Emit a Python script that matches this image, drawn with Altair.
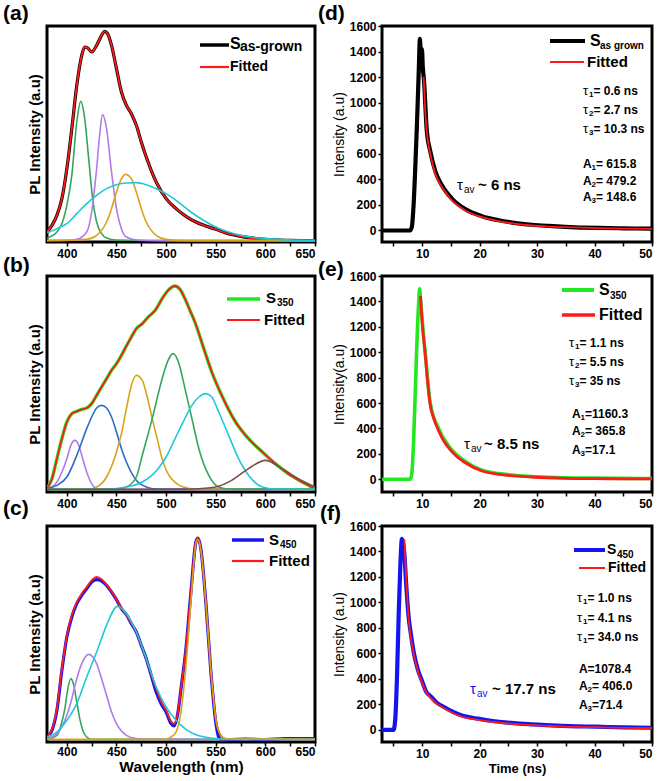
import altair as alt
import pandas as pd

FONT = "Liberation Sans"

# ---------------- panel (a) : S as-grown PL ----------------
a_tot_x = [380, 385, 390, 395, 400, 405, 410, 415, 418, 421, 425, 430, 435, 438, 441, 445, 450, 455, 460,
           465, 470, 475, 480, 490, 500, 510, 520, 530, 540, 550, 560, 575, 600, 625, 650]
a_tot_y = [30, 50, 80, 130, 220, 340, 470, 560, 585, 582, 570, 590, 620, 632, 625, 590, 520, 450, 410,
           385, 350, 300, 255, 180, 130, 100, 77, 60, 48, 38, 27, 17, 8, 5, 4]
a_green_x = [380, 390, 395, 400, 405, 410, 414, 418, 422, 426, 430, 435, 440, 450, 500, 650]
a_green_y = [12, 30, 55, 110, 200, 360, 422, 370, 250, 130, 60, 25, 12, 6, 4, 4]
a_purple_x = [380, 400, 410, 420, 425, 430, 433, 436, 440, 445, 450, 455, 460, 470, 500, 650]
a_purple_y = [5, 5, 8, 30, 90, 220, 320, 382, 340, 210, 100, 40, 15, 6, 4, 4]
a_orange_x = [380, 420, 430, 440, 445, 450, 455, 459, 465, 470, 475, 480, 490, 500, 520, 650]
a_orange_y = [4, 8, 20, 60, 100, 150, 190, 203, 190, 150, 100, 60, 20, 8, 4, 4]
a_cyan_x = [380, 390, 400, 410, 420, 430, 440, 450, 460, 470, 480, 490, 500, 510, 525, 550, 575, 600, 625, 650]
a_cyan_y = [28, 40, 55, 85, 115, 140, 160, 172, 177, 178, 172, 160, 145, 125, 90, 45, 20, 10, 6, 4]

# ---------------- panel (b) : S350 PL ----------------
b_tot_x = [380, 385, 390, 395, 400, 405, 410, 415, 420, 425, 430, 435, 440, 445, 450, 455, 460, 465, 470,
           476, 482, 489, 496, 502, 509, 514, 519, 524, 529, 538, 546, 556, 570, 583, 597, 610, 623, 637, 650]
b_tot_y = [10, 40, 100, 160, 210, 235, 242, 248, 252, 265, 290, 315, 340, 365, 385, 410, 438, 465, 490,
           505, 525, 545, 580, 605, 618, 608, 580, 545, 510, 430, 360, 290, 210, 160, 120, 85, 55, 30, 10]
b_purple_x = [380, 390, 395, 400, 404, 408, 412, 416, 420, 425, 430, 440, 650]
b_purple_y = [8, 30, 60, 100, 140, 155, 140, 100, 60, 25, 10, 8, 8]
b_blue_x = [380, 390, 400, 410, 420, 425, 430, 435, 440, 445, 450, 455, 460, 470, 480, 490, 650]
b_blue_y = [10, 20, 45, 110, 190, 225, 252, 260, 252, 225, 180, 130, 90, 35, 15, 9, 8]
b_orange_x = [380, 420, 430, 440, 450, 455, 460, 465, 470, 476, 481, 486, 491, 496, 501, 506, 512, 520, 530, 650]
b_orange_y = [8, 8, 15, 45, 120, 175, 250, 320, 350, 335, 285, 220, 160, 100, 60, 38, 22, 13, 9, 8]
b_green_x = [380, 450, 460, 470, 476, 486, 496, 502, 507, 513, 519, 526, 533, 543, 553, 563, 650]
b_green_y = [8, 8, 15, 45, 110, 220, 340, 395, 415, 385, 310, 220, 130, 50, 15, 9, 8]
b_cyan_x = [380, 440, 460, 476, 492, 500, 509, 518, 526, 533, 540, 546, 553, 563, 573, 583, 597, 610, 650]
b_cyan_y = [8, 9, 15, 30, 70, 105, 160, 215, 260, 285, 295, 285, 240, 170, 100, 50, 15, 9, 8]
b_brown_x = [380, 500, 526, 550, 566, 583, 600, 617, 633, 650]
b_brown_y = [8, 8, 9, 15, 35, 70, 95, 70, 40, 15]

# ---------------- panel (c) : S450 PL ----------------
c_dat_x = [380, 385, 390, 395, 400, 405, 410, 415, 420, 425, 430, 435, 440, 445, 450, 455, 460, 465, 470,
           475, 480, 485, 490, 495, 500, 505, 508, 512, 515, 520, 525, 530, 532, 535, 540, 545, 550, 553,
           556, 560, 580, 600, 620, 650]
c_dat_y = [15, 35, 95, 215, 315, 375, 415, 440, 460, 480, 487, 483, 470, 450, 427, 400, 382, 355, 330,
           290, 250, 200, 150, 115, 90, 55, 48, 90, 160, 280, 450, 600, 612, 580, 420, 215, 60, 15,
           5, 6, 9, 7, 10, 10]
c_fit_x = [380, 385, 390, 395, 400, 405, 410, 415, 420, 425, 430, 435, 440, 445, 450, 455, 460, 465, 470,
           475, 480, 485, 490, 495, 500, 505, 508, 512, 515, 520, 525, 530, 532, 535, 540, 545, 550, 555,
           560, 650]
c_fit_y = [15, 38, 100, 220, 318, 380, 420, 445, 465, 485, 495, 488, 472, 452, 428, 402, 382, 356, 330,
           290, 250, 203, 160, 122, 95, 62, 55, 92, 160, 280, 450, 600, 612, 580, 420, 215, 70, 20,
           9, 8]
c_green_x = [380, 390, 395, 398, 401, 404, 407, 410, 413, 416, 420, 425, 650]
c_green_y = [8, 20, 60, 100, 160, 190, 170, 120, 70, 35, 15, 8, 8]
c_purple_x = [380, 390, 400, 405, 410, 415, 422, 430, 435, 440, 445, 450, 460, 470, 480, 650]
c_purple_y = [10, 25, 80, 130, 190, 235, 263, 235, 190, 140, 90, 55, 20, 10, 8, 8]
c_cyan_x = [380, 390, 400, 410, 420, 430, 440, 451, 460, 470, 480, 490, 500, 510, 520, 530, 540, 550, 560, 650]
c_cyan_y = [15, 30, 65, 115, 195, 270, 350, 407, 385, 330, 250, 165, 105, 65, 38, 22, 14, 10, 9, 8]
c_orange_x = [380, 500, 505, 510, 515, 520, 525, 530, 532, 535, 540, 545, 550, 555, 560, 650]
c_orange_y = [8, 8, 15, 30, 90, 230, 420, 595, 607, 575, 420, 220, 70, 20, 9, 8]

# ---------------- panel (d) : S as-grown TRPL ----------------
d_dat_t = [3, 7.9, 8.2, 8.5, 8.8, 9.1, 9.4, 9.6, 9.8, 9.95, 10.1, 10.3, 10.8, 11.4, 12.3, 13.4, 15.2, 17.5,
           20.4, 23.3, 26, 29.1, 32, 34.9, 38, 40.7, 45, 50]
d_dat_v = [0, 0, 30, 200, 500, 850, 1250, 1500, 1330, 1420, 1280, 1180, 780, 620, 460, 355, 248, 167,
           112, 80, 60, 45, 36, 29, 23, 20, 17, 14]
d_fit_t = [10.25, 10.5, 10.83, 11.1, 11.41, 11.8, 12.28, 12.8, 13.43, 14.2, 15.17, 16.3, 17.5, 19, 20.4,
           23.3, 26, 29.1, 32, 34.9, 40.7, 45, 50]
d_fit_v = [1203, 960, 758, 670, 601, 520, 444, 390, 340, 290, 235, 193, 157, 125, 105,
           73, 54, 39, 31, 26, 18, 15, 13]

# ---------------- panel (e) : S350 TRPL ----------------
e_dat_t = [3, 7.9, 8.2, 8.5, 8.8, 9.1, 9.4, 9.55, 9.7, 10.0, 10.54, 11.4, 12.9, 14.6, 17.5, 20.4, 23.3,
           26, 29.1, 32, 34.9, 40, 45, 50]
e_dat_v = [0, 0, 50, 300, 700, 1100, 1400, 1500, 1420, 1250, 990, 600, 395, 262, 140, 72, 45,
           32, 22, 16, 12, 9, 7, 6]
e_fit_t = [9.7, 10.0, 10.54, 11.0, 11.4, 12.0, 12.9, 13.7, 14.6, 16, 17.5, 20.4, 23.3, 26, 29.1, 34.9,
           40, 45, 50]
e_fit_v = [1444, 1230, 976, 740, 585, 480, 377, 305, 247, 180, 130, 65, 39, 27, 18, 8, 5, 4, 3]

# ---------------- panel (f) : S450 TRPL ----------------
f_dat_t = [3, 5.0, 5.3, 5.6, 5.9, 6.2, 6.47, 6.7, 6.9, 7.2, 7.65, 8.0, 8.5, 9.2, 10, 10.7, 11.5, 12.5,
           13.8, 15.2, 16.8, 19.7, 22.6, 25.5, 28.5, 31.5, 34.4, 37, 40.3, 45, 50]
f_dat_v = [0, 0, 80, 400, 900, 1300, 1500, 1460, 1380, 1150, 880, 760, 615, 480, 380, 300, 262, 215,
           180, 145, 115, 88, 68, 55, 45, 38, 32, 28, 25, 20, 17]
f_fit_t = [6.9, 7.2, 7.65, 8.0, 8.5, 9.2, 10, 10.7, 11.5, 12.5, 13.8, 15.2, 16.8, 19.7, 22.6, 25.5,
           28.5, 31.5, 34.4, 37, 40.3, 45, 50]
f_fit_v = [1495, 1200, 866, 730, 603, 470, 367, 295, 249, 205, 170, 135, 105, 79, 60, 48,
           39, 32, 26, 23, 21, 16, 13]

# ---------------- annotations (symbol, subscript, rest) ----------------
d_notes = [("τ", "1", "= 0.6 ns"), ("τ", "2", " = 2.7 ns"), ("τ", "3", "= 10.3 ns"),
           ("A", "1", "= 615.8"), ("A", "2", "= 479.2"), ("A", "3", "= 148.6")]
e_notes = [("τ", "1", " = 1.1 ns"), ("τ", "2", " = 5.5 ns"), ("τ", "3", " = 35 ns"),
           ("A", "1", "=1160.3"), ("A", "2", "= 365.8"), ("A", "3", "=17.1")]
f_notes = [("τ", "1", "= 1.0 ns"), ("τ", "1", "= 4.1 ns"), ("τ", "1", " = 34.0 ns"),
           ("A", "", "=1078.4"), ("A", "2", "= 406.0"), ("A", "3", "=71.4")]

wl_ticks = [400, 425, 450, 475, 500, 525, 550, 575, 600, 625, 650]
t_ticks = [5, 10, 15, 20, 25, 30, 35, 40, 45, 50]
i_ticks = [0, 200, 400, 600, 800, 1000, 1200, 1400, 1600]

# colours
BLACK = "#000000"
RED = "#ff1a1a"
DGREEN = "#22e822"
DBLUE = "#1414f0"
C_GREEN = "#33a65c"
C_PURPLE = "#b07ce8"
C_ORANGE = "#d9a21b"
C_CYAN = "#1fc8d8"
C_BLUE = "#2b6cc4"
C_BROWN = "#7b4f45"

WL = 268
WT = 270
H = 216


def encs(xdom, ydom, xaxis, yaxis):
    x = alt.X("x:Q", scale=alt.Scale(domain=xdom, nice=False, zero=False), axis=xaxis)
    y = alt.Y("y:Q", scale=alt.Scale(domain=ydom, nice=False, zero=False), axis=yaxis)
    return x, y


def curve(xs, ys, color, width, enc):
    df = pd.DataFrame({"x": xs, "y": ys})
    return alt.Chart(df).mark_line(color=color, strokeWidth=width, interpolate="monotone",
                                   clip=True).encode(x=enc[0], y=enc[1])


def txt(t, x, y, size=12, weight="bold", color=BLACK, font=FONT):
    return alt.Chart(pd.DataFrame({"t": [t]})).mark_text(
        align="left", baseline="middle", fontSize=size, fontWeight=weight, color=color, font=font
    ).encode(x=alt.value(x), y=alt.value(y), text="t:N")


def note(parts, x, y):
    sym, sub, rest = parts
    out = []
    if sym == "τ":
        out.append(txt(sym, x, y, 13, "normal"))
        sx = x + 6
    else:
        out.append(txt(sym, x, y, 12))
        sx = x + 8.5
    if sub:
        out.append(txt(sub, sx, y + 4, 8))
        rx = sx + 4.5
    else:
        rx = sx
    out.append(txt(rest, rx, y, 12))
    return out


def seg(x1, x2, y, color, w):
    return alt.Chart(pd.DataFrame({"d": [0]})).mark_rule(color=color, strokeWidth=w).encode(
        x=alt.value(x1), x2=alt.value(x2), y=alt.value(y))


def wl_axis(title=None):
    kw = dict(values=wl_ticks, grid=False, domain=False, tickSize=4, tickWidth=1.5,
              labelFontSize=12,
              labelExpr="datum.value % 50 == 0 ? datum.label : ''")
    if title:
        return alt.Axis(title=title, titleFontSize=15.5, titleFontWeight="bold", titlePadding=2,
                        labelPadding=0, **kw)
    return alt.Axis(title=None, labelPadding=2, **kw)


def t_axis(title=None):
    kw = dict(values=t_ticks, grid=False, domain=False, tickSize=4, tickWidth=1.5,
              labelFontSize=12, labelPadding=2,
              labelExpr="datum.value % 10 == 0 ? datum.label : ''")
    if title:
        return alt.Axis(title=title, titleFontSize=13, titleFontWeight="bold", titlePadding=3, **kw)
    return alt.Axis(title=None, **kw)


pl_axis = alt.Axis(title="PL Intensity (a.u)", labels=False, ticks=False, grid=False, domain=False,
                   titleFontSize=15, titleFontWeight="bold", titlePadding=5)


def int_axis(title):
    return alt.Axis(title=title, values=i_ticks, format="d", grid=False, domain=False, tickSize=4,
                    tickWidth=1.5, labelFontSize=12, labelPadding=2, titleFontSize=14,
                    titleFontWeight="normal", titlePadding=3)


# ---- (a)
ea = encs([380, 650], [0, 648], wl_axis(), pl_axis)
panel_a = alt.layer(
    curve(a_tot_x, a_tot_y, BLACK, 3.2, ea),
    curve(a_tot_x, a_tot_y, RED, 1.8, ea),
    curve(a_green_x, a_green_y, C_GREEN, 1.6, ea),
    curve(a_purple_x, a_purple_y, C_PURPLE, 1.6, ea),
    curve(a_orange_x, a_orange_y, C_ORANGE, 1.6, ea),
    curve(a_cyan_x, a_cyan_y, C_CYAN, 1.6, ea),
    seg(153, 182, 19, BLACK, 3.5), seg(153, 182, 41, RED, 2.2),
    txt("S", 183, 18, 16), txt("as-grown", 193, 21, 14),
    txt("Fitted", 183, 41, 14),
    txt("(a)", -44, -12, 21),
).properties(width=WL, height=H)

# ---- (b)
eb = encs([380, 650], [0, 648], wl_axis(), pl_axis)
panel_b = alt.layer(
    curve(b_tot_x, b_tot_y, DGREEN, 3.4, eb),
    curve(b_tot_x, b_tot_y, RED, 1.8, eb),
    curve(b_purple_x, b_purple_y, C_PURPLE, 1.6, eb),
    curve(b_blue_x, b_blue_y, C_BLUE, 1.6, eb),
    curve(b_orange_x, b_orange_y, C_ORANGE, 1.6, eb),
    curve(b_green_x, b_green_y, C_GREEN, 1.6, eb),
    curve(b_cyan_x, b_cyan_y, C_CYAN, 1.6, eb),
    curve(b_brown_x, b_brown_y, C_BROWN, 1.6, eb),
    seg(180, 213, 23, DGREEN, 3.5), seg(180, 213, 44, RED, 2.2),
    txt("S", 219, 22, 15), txt("350", 230, 27, 10),
    txt("Fitted", 217, 44, 15),
    txt("(b)", -44, -10, 21),
).properties(width=WL, height=H)

# ---- (c)
ec = encs([380, 650], [0, 648], wl_axis("Wavelength (nm)"), pl_axis)
panel_c = alt.layer(
    curve(c_dat_x, c_dat_y, DBLUE, 3.2, ec),
    curve(c_fit_x, c_fit_y, RED, 1.8, ec),
    curve(c_green_x, c_green_y, C_GREEN, 1.6, ec),
    curve(c_purple_x, c_purple_y, C_PURPLE, 1.6, ec),
    curve(c_cyan_x, c_cyan_y, C_CYAN, 1.6, ec),
    curve(c_orange_x, c_orange_y, C_ORANGE, 1.6, ec),
    seg(185, 217, 14, DBLUE, 3.5), seg(185, 217, 35, RED, 2.2),
    txt("S", 222, 14, 15), txt("450", 233, 19, 10),
    txt("Fitted", 222, 35, 15),
    txt("(c)", -44, -17, 21),
).properties(width=WL, height=H)

# ---- (d)
ed = encs([3, 50], [-90, 1600], t_axis(), int_axis("Intensity (a.u)"))
layers_d = [
    curve(d_dat_t, d_dat_v, BLACK, 4.2, ed),
    curve(d_fit_t, d_fit_v, RED, 1.8, ed),
    seg(168, 203, 15, BLACK, 4), seg(168, 202, 36, RED, 2),
    txt("S", 208, 15, 16), txt("as grown", 218, 20, 10),
    txt("Fitted", 205, 36, 15),
    txt("τ", 75, 159, 15, "normal"), txt("av", 82, 164, 10, "normal"), txt("~ 6 ns", 96, 159, 15),
    txt("(d)", -64, -12, 21),
]
for parts, yy in zip(d_notes, [65, 84, 103, 138, 155, 171]):
    layers_d += note(parts, 201, yy)
panel_d = alt.layer(*layers_d).properties(width=WT, height=H)

# ---- (e)
ee = encs([3, 50], [-100, 1600], t_axis(), int_axis("Intensity(a.u)"))
layers_e = [
    curve(e_dat_t, e_dat_v, DGREEN, 3.6, ee),
    curve(e_fit_t, e_fit_v, RED, 2.8, ee),
    seg(180, 212, 14, DGREEN, 4), seg(180, 213, 39, RED, 3.5),
    txt("S", 217, 14, 16), txt("350", 228, 20, 10),
    txt("Fitted", 217, 39, 16),
    txt("τ", 82, 168, 15, "normal"), txt("av", 89, 173, 10, "normal"), txt("~ 8.5 ns", 102, 168, 15),
    txt("(e)", -64, -6, 21),
]
for i, (parts, yy) in enumerate(zip(e_notes, [67, 86, 105, 138, 155, 174])):
    layers_e += note(parts, 187 if i < 3 else 190, yy)
panel_e = alt.layer(*layers_e).properties(width=WT, height=H)

# ---- (f)
ef = encs([3, 50], [-95, 1600], t_axis("Time (ns)"), int_axis("Intensity (a.u)"))
layers_f = [
    curve(f_dat_t, f_dat_v, DBLUE, 4.2, ef),
    curve(f_fit_t, f_fit_v, RED, 1.8, ef),
    seg(192, 223, 24, DBLUE, 4), seg(197, 223, 42, RED, 2),
    txt("S", 225, 24, 14), txt("450", 235, 29, 10),
    txt("Fitted", 226, 42, 14),
    txt("τ", 88, 163, 15, "normal", DBLUE), txt("av", 95, 168, 10, "normal", DBLUE),
    txt("~ 17.7 ns", 110, 163, 15),
    txt("(f)", -62, -12, 21),
]
for i, (parts, yy) in enumerate(zip(f_notes, [72, 92, 111, 143, 160, 179])):
    layers_f += note(parts, 195 if i < 3 else 197, yy)
panel_f = alt.layer(*layers_f).properties(width=WT, height=H)

chart = alt.concat(
    panel_a, panel_d, panel_b, panel_e, panel_c, panel_f,
    columns=2, spacing={"row": 34, "column": 67}, bounds="flush",
).properties(
    padding={"left": 1, "top": 1, "right": 0, "bottom": 0},
    background="white",
).configure_view(
    stroke=BLACK, strokeWidth=3
).configure_axis(
    labelFont=FONT, titleFont=FONT, labelFontWeight="bold", labelColor=BLACK, titleColor=BLACK,
    tickColor=BLACK
)

chart.save("out.html", embed_options={"renderer": "svg", "actions": False})
